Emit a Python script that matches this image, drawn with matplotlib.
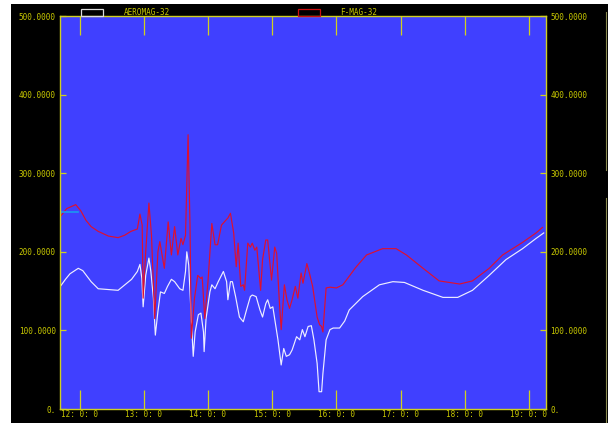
import numpy as np
import matplotlib
matplotlib.use('Agg')
import matplotlib.pyplot as plt
import matplotlib.patches as ptc
from matplotlib.lines import Line2D

# time in decimal hours, field values
aero_t = [11.70, 11.78, 11.85, 11.98, 12.05, 12.18, 12.29, 12.60, 12.81, 12.90,
          12.94, 12.97,
          12.99, 13.03, 13.08, 13.11, 13.15, 13.18, 13.22, 13.26, 13.32, 13.37,
          13.43, 13.48, 13.56, 13.61, 13.65, 13.67, 13.70, 13.74, 13.77, 13.80,
          13.85, 13.89, 13.93, 13.94, 13.97, 14.03, 14.06, 14.11, 14.16, 14.24,
          14.29, 14.31, 14.35, 14.38, 14.43, 14.49, 14.55, 14.60, 14.66, 14.69,
          14.75, 14.81, 14.85, 14.90, 14.93, 14.97, 15.01, 15.05, 15.09, 15.14,
          15.18, 15.22, 15.27, 15.31, 15.38, 15.43, 15.47, 15.51, 15.56, 15.61,
          15.65, 15.70, 15.73, 15.77, 15.79, 15.84, 15.90, 15.95, 16.05, 16.13,
          16.20, 16.41, 16.67, 16.88, 17.06, 17.35, 17.66, 17.89, 18.12, 18.38,
          18.64, 18.90, 19.11, 19.23]
aero_v = [156, 165, 172, 179, 176, 162, 153, 151, 165, 175,
          184, 166,
          130, 170, 192, 175, 141, 94, 124, 149, 147, 156,
          165, 162, 153, 151, 175, 200, 183, 115, 67, 98,
          120, 122, 98, 73, 115, 149, 158, 153, 162, 175,
          162, 139, 162, 162, 143, 117, 111, 126, 143, 145,
          143, 126, 117, 134, 139, 128, 130, 109, 88, 56,
          77, 67, 69, 75, 92, 88, 101, 92, 105, 106,
          88, 58, 22, 22, 45, 88, 101, 103, 103, 112,
          126, 143, 158, 162, 161, 151, 142, 142, 151, 170,
          190, 204, 217, 224]

fmag_t = [11.70, 11.75, 11.80, 11.94, 12.02, 12.10, 12.18, 12.29, 12.45, 12.60,
          12.70, 12.80, 12.90, 12.94, 12.975,
          12.99, 13.03, 13.08, 13.12, 13.17, 13.22, 13.25, 13.32, 13.38, 13.43,
          13.48, 13.53, 13.58, 13.61, 13.65, 13.69, 13.72, 13.74, 13.79, 13.84,
          13.89, 13.91, 13.95, 14.00, 14.06, 14.11, 14.15, 14.21, 14.31, 14.35,
          14.40, 14.44, 14.47, 14.51, 14.55, 14.57, 14.62, 14.66, 14.69, 14.73,
          14.76, 14.82, 14.85, 14.90, 14.93, 14.99, 15.04, 15.07, 15.11, 15.14,
          15.19, 15.23, 15.27, 15.31, 15.36, 15.40, 15.45, 15.48, 15.54, 15.58,
          15.63, 15.70, 15.74, 15.77, 15.79, 15.84, 15.90, 16.00, 16.10, 16.21,
          16.30, 16.47, 16.72, 16.93, 17.09, 17.35, 17.60, 17.92, 18.12, 18.38,
          18.59, 18.90, 19.11, 19.21]
fmag_v = [245, 250, 255, 260, 252, 240, 232, 226, 220, 218,
          221, 226, 229, 248, 234,
          141, 200, 262, 221, 115, 200, 213, 179, 238, 196,
          232, 196, 217, 209, 221, 349, 234, 90, 141, 170,
          166, 168, 115, 162, 236, 209, 209, 234, 243, 249,
          224, 181, 211, 156, 158, 151, 211, 206, 211, 202,
          206, 151, 190, 215, 215, 164, 206, 198, 139, 101,
          158, 139, 128, 139, 156, 141, 173, 160, 185, 173,
          156, 117, 107, 105, 98, 154, 155, 154, 158, 170,
          180, 196, 204, 204, 196, 179, 163, 159, 163, 179,
          196, 212, 224, 231]

ref_t = [11.695, 11.98]
ref_v = [250, 250]

hours = [12, 13, 14, 15, 16, 17, 18, 19]
hour_labels = ['%d: 0: 0' % h for h in hours]
yvals = [0, 100, 200, 300, 400, 500]
ylabels = ['0.', '100.0000', '200.0000', '300.0000', '400.0000', '500.0000']

YEL = '#d0d020'
TXT = '#c8c800'
W, H = 608.0, 423.0

fig = plt.figure(figsize=(6.08, 4.23), dpi=100)
fig.patch.set_facecolor('white')
# black screen area
fig.patches.append(ptc.Rectangle((11/W, 0), 1 - 11/W, 1 - 4/H, transform=fig.transFigure,
                                 facecolor='black', edgecolor='none', zorder=-10))
fig.lines.append(Line2D([605.5/W, 605.5/W], [1 - 12/H, 1 - 170/H], transform=fig.transFigure,
                        color='#8a8a50', lw=0.8))
fig.lines.append(Line2D([605.5/W, 605.5/W], [1 - 198/H, 0], transform=fig.transFigure,
                        color='#8a8a50', lw=0.8))

ax = fig.add_axes([60/W, 14/H, 486/W, 393/H])
ax.set_facecolor('#4040ff')
ax.plot(aero_t, aero_v, color='#eeeeff', lw=0.85)
ax.plot(fmag_t, fmag_v, color='#dd1030', lw=0.85)
ax.plot(ref_t, ref_v, color='#1a9af0', lw=1.2)

ax.set_xlim(11.695, 19.265)
ax.set_ylim(0, 500)
for s in ax.spines.values():
    s.set_color(YEL)
    s.set_linewidth(1.0)

ax.set_xticks(hours)
ax.set_xticklabels(hour_labels)
ax.set_yticks(yvals)
ax.set_yticklabels(ylabels)
ax.tick_params(axis='x', direction='in', length=14, width=0.9, color=YEL,
               top=True, bottom=True, labelsize=5.5, labelcolor=TXT, pad=1)
ax.tick_params(axis='y', direction='in', length=4, width=0.9, color=YEL,
               left=True, right=True, labelleft=True, labelright=True,
               labelsize=5.5, labelcolor=TXT, pad=3)
for lab in ax.get_xticklabels() + ax.get_yticklabels():
    lab.set_family('DejaVu Sans Mono')

# legend along the top
fig.patches.append(ptc.Rectangle((81/W, 1 - 16/H), 22/W, 7/H, transform=fig.transFigure,
                                 facecolor='none', edgecolor='#dddddd', lw=0.9))
fig.text(124/W, 1 - 12.5/H, 'AEROMAG-32', color=TXT, fontsize=5.5,
         family='DejaVu Sans Mono', va='center', ha='left')
fig.patches.append(ptc.Rectangle((297.5/W, 1 - 16/H), 22/W, 7/H, transform=fig.transFigure,
                                 facecolor='none', edgecolor='#cc1010', lw=0.9))
fig.text(340.5/W, 1 - 12.5/H, 'F-MAG-32', color=TXT, fontsize=5.5,
         family='DejaVu Sans Mono', va='center', ha='left')

fig.savefig('out.png', dpi=100, facecolor=fig.get_facecolor())
